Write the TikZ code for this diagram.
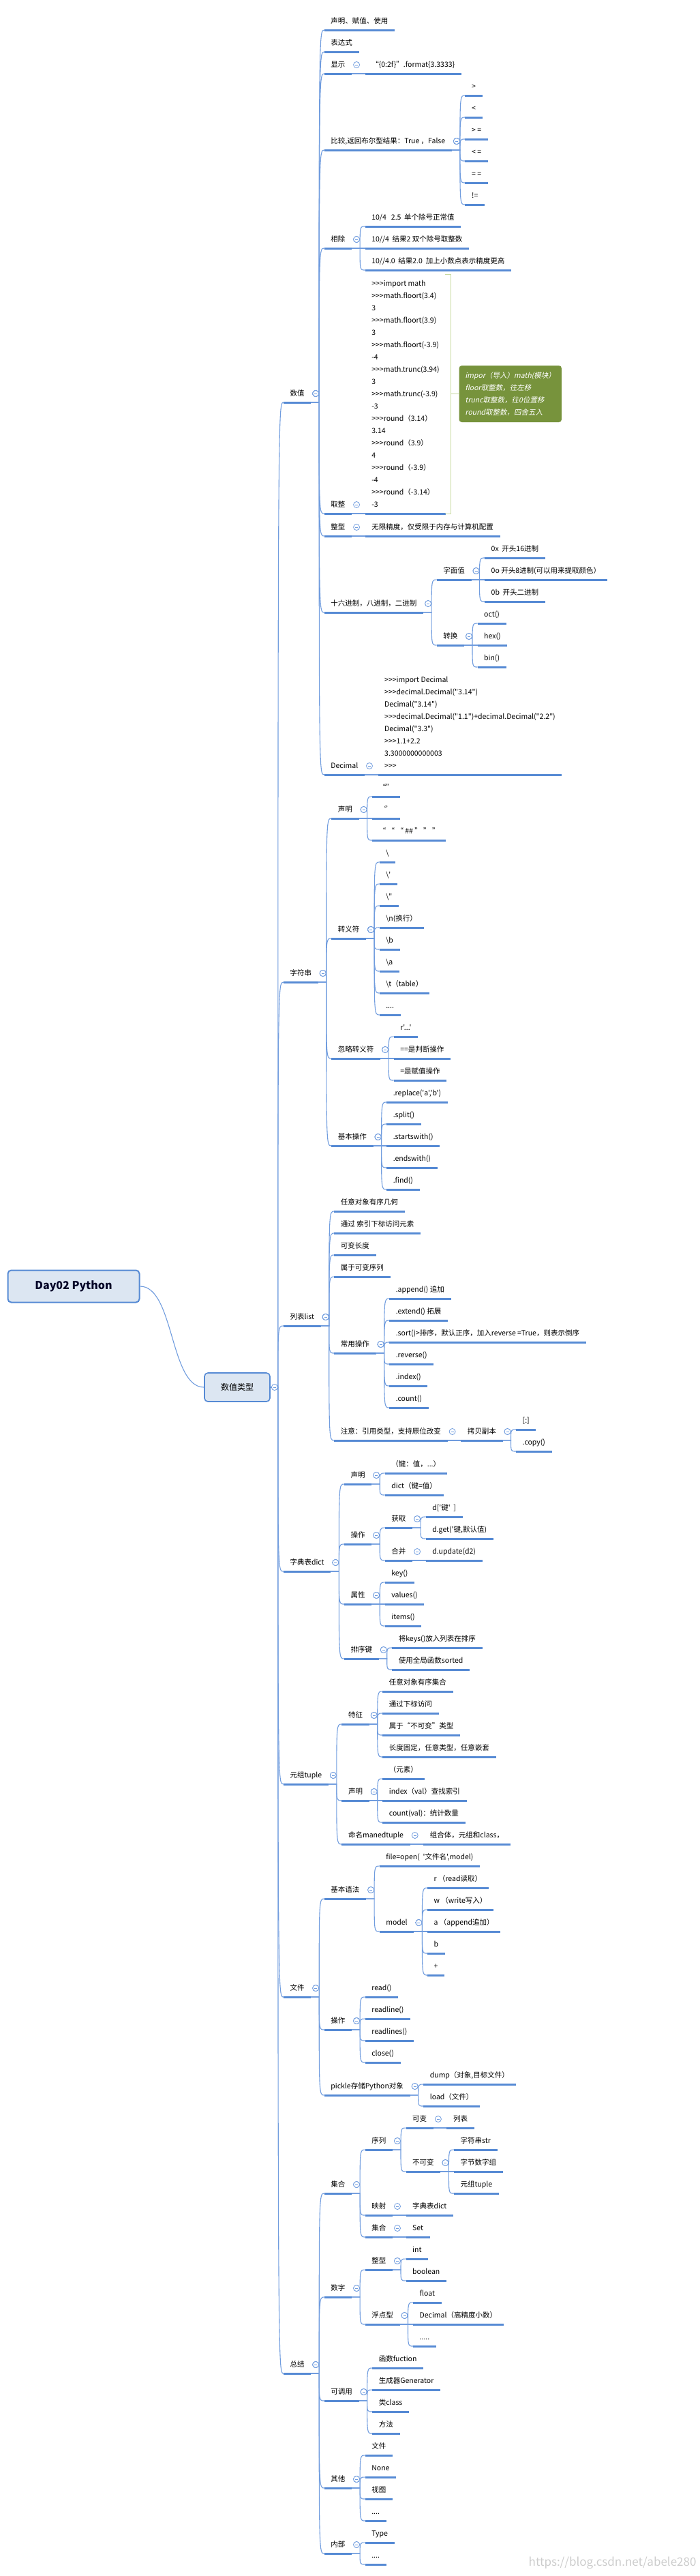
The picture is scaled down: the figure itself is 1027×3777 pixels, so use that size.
\documentclass[tikz,border=0pt]{standalone}
\usepackage{fontspec}
\usepackage{xcolor}
\usepackage{tikz}
\usetikzlibrary{arrows.meta,positioning,calc}
\newfontfamily\mapfont{Noto Sans CJK SC}
\newfontfamily\notefont[FakeSlant=0.2]{Noto Sans CJK SC}
\definecolor{mapblue}{RGB}{86,138,212}
\definecolor{linkblue}{RGB}{112,156,222}
\definecolor{boxfill}{RGB}{220,230,242}
\definecolor{noteolive}{RGB}{119,147,60}
\definecolor{bracegreen}{RGB}{200,218,160}
\tikzset{
  leaf/.style={font=\mapfont\fontsize{10.5}{18}\selectfont, inner xsep=9.5pt, anchor=south west},
  topic/.style={leaf, inner ysep=6pt, text height=9pt, text depth=3pt},
  codeblk/.style={leaf, inner ysep=9pt, align=left},
  uline/.style={draw=mapblue, line width=3pt},
  conn/.style={draw=linkblue, line width=1.1pt},
  foldc/.style={draw=linkblue, fill=white, line width=0.8pt},
  mainbox/.style={draw=mapblue, fill=boxfill, rounded corners=5pt, line width=2pt},
  brace/.style={draw=bracegreen, line width=1pt},
  note/.style={fill=noteolive, rounded corners=4pt, text=white, align=left, inner xsep=9pt, inner ysep=7pt,
    font=\notefont\fontsize{10.5}{18}\selectfont}
}
% child of a topic: parent, name, y of underline, text
\newcommand{\kid}[5][topic]{%
  \node[#1] (#3) at ([xshift=19.5pt]#2.south east |- 0,#4) {#5};
  \draw[uline] (#3.south west) -- (#3.south east);
  \draw[conn] (#2.south east) -- ([xshift=12pt]#2.south east)
    .. controls ([xshift=12pt]#2.south east |- #3.south west) and ([xshift=12pt]#2.south east |- #3.south west) .. (#3.south west);
  \draw[foldc] ([xshift=7pt,yshift=13pt]#2.south east) circle (4.5pt);
  \draw[linkblue, line width=0.8pt] ([xshift=5pt,yshift=13pt]#2.south east) -- ([xshift=9pt,yshift=13pt]#2.south east);
}
% first level below the main topic
\newcommand{\leveltop}[3]{%
  \node[topic] (#1) at ([xshift=19pt]nv.east |- 0,#2) {#3};
  \draw[uline] (#1.south west) -- (#1.south east);
  \draw[conn] (nv.east) -- ([xshift=11pt]nv.east)
    .. controls ([xshift=11pt]nv.east |- #1.south west) and ([xshift=11pt]nv.east |- #1.south west) .. (#1.south west);
}
\begin{document}
\begin{tikzpicture}[x=1pt, y=-1pt]
  \useasboundingbox (0,0) rectangle (1027,3777);
  % root and main topic
  \node[mainbox, minimum width=193pt, minimum height=47pt, font=\mapfont\bfseries\fontsize{16}{20}\selectfont, text=black!85!blue] (root) at (108,1886) {Day02 Python};
  \node[mainbox, minimum width=96pt, minimum height=42pt, line width=1.6pt, font=\mapfont\fontsize{12}{16}\selectfont] (nv) at (348,2034) {数值类型};
  \draw[conn] (root.east) .. controls +(50,0) and +(-50,0) .. (nv.west);
  \leveltop{sz}{590}{数值}
  \leveltop{zfc}{1440}{字符串}
  \leveltop{lb}{1944}{列表list}
  \leveltop{zd}{2304}{字典表dict}
  \leveltop{yz}{2616}{元组tuple}
  \leveltop{wj}{2928}{文件}
  \leveltop{zj}{3480}{总结}
  \draw[foldc] ([xshift=6pt]nv.east) circle (4.5pt);
  \draw[linkblue, line width=0.8pt] ([xshift=4pt]nv.east) -- ([xshift=8pt]nv.east);

  % 数值
  \kid{sz}{sm}{44}{声明、赋值、使用}
  \kid{sz}{bds}{76}{表达式}
  \kid{sz}{xs}{108}{显示}
  \kid{xs}{xsfmt}{108}{“\{0:2f\}”.format\{3.3333\}}
  \kid{sz}{bj}{220}{比较,返回布尔型结果：True ，False}
  \kid{bj}{bj1}{140}{>}
  \kid{bj}{bj2}{172}{<}
  \kid{bj}{bj3}{204}{> =}
  \kid{bj}{bj4}{236}{< =}
  \kid{bj}{bj5}{268}{= =}
  \kid{bj}{bj6}{300}{!=}
  \kid{sz}{xc}{364}{相除}
  \kid{xc}{xc1}{332}{10/4~~~2.5~~单个除号正常值}
  \kid{xc}{xc2}{364}{10//4~~结果2 双个除号取整数}
  \kid{xc}{xc3}{396}{10//4.0~~结果2.0~~加上小数点表示精度更高}
  \kid{sz}{qz}{753}{取整}
  \kid[codeblk]{qz}{qzcode}{753}{>>>import math\\>>>math.floort(3.4)\\3\\>>>math.floort(3.9)\\3\\>>>math.floort(-3.9)\\-4\\>>>math.trunc(3.94)\\3\\>>>math.trunc(-3.9)\\-3\\>>>round（3.14）\\3.14\\>>>round（3.9）\\4\\>>>round（-3.9）\\-4\\>>>round（-3.14）\\-3}
  \draw[brace] ([xshift=-1pt]qzcode.north east) -- ([xshift=7pt]qzcode.north east) -- ([xshift=7pt]qzcode.south east) -- ([xshift=-1pt]qzcode.south east);
  \node[note, anchor=west, minimum width=148pt, minimum height=83pt] (note) at ([xshift=19pt]qzcode.east) {impor（导入）math(模块）\\floor取整数，往左移\\trunc取整数，往0位置移\\round取整数，四舍五入};
  \draw[brace] ([xshift=7pt]qzcode.east) -- (note.west);
  \kid{sz}{zx}{786}{整型}
  \kid{zx}{zx1}{786}{无限精度，仅受限于内存与计算机配置}
  \kid{sz}{jz}{898}{十六进制，八进制，二进制}
  \kid{jz}{zmz}{850}{字面值}
  \kid{zmz}{zmz1}{818}{0x~~开头16进制}
  \kid{zmz}{zmz2}{850}{0o 开头8进制(可以用来提取颜色）}
  \kid{zmz}{zmz3}{882}{0b~~开头二进制}
  \kid{jz}{zh}{946}{转换}
  \kid{zh}{zh1}{914}{oct()}
  \kid{zh}{zh2}{946}{hex()}
  \kid{zh}{zh3}{978}{bin()}
  \kid{sz}{dec}{1136}{Decimal}
  \kid[codeblk]{dec}{deccode}{1136}{>>>import Decimal\\>>>decimal.Decimal("3.14")\\Decimal("3.14")\\>>>decimal.Decimal("1.1")+decimal.Decimal("2.2")\\Decimal("3.3")\\>>>1.1+2.2\\3.3000000000003\\>>>}

  % 字符串
  \kid{zfc}{zsm}{1200}{声明}
  \kid{zsm}{zsm1}{1168}{“”}
  \kid{zsm}{zsm2}{1200}{‘’}
  \kid{zsm}{zsm3}{1232}{“ “ “ \#\# ” ” ”}
  \kid{zfc}{zyf}{1376}{转义符}
  \kid{zyf}{zyf1}{1264}{\textbackslash}
  \kid{zyf}{zyf2}{1296}{\textbackslash'}
  \kid{zyf}{zyf3}{1328}{\textbackslash"}
  \kid{zyf}{zyf4}{1360}{\textbackslash n(换行）}
  \kid{zyf}{zyf5}{1392}{\textbackslash b}
  \kid{zyf}{zyf6}{1424}{\textbackslash a}
  \kid{zyf}{zyf7}{1456}{\textbackslash t（table）}
  \kid{zyf}{zyf8}{1488}{....}
  \kid{zfc}{hl}{1552}{忽略转义符}
  \kid{hl}{hl1}{1520}{r'...'}
  \kid{hl}{hl2}{1552}{==是判断操作}
  \kid{hl}{hl3}{1584}{=是赋值操作}
  \kid{zfc}{jbcz}{1680}{基本操作}
  \kid{jbcz}{jb1}{1616}{.replace('a','b')}
  \kid{jbcz}{jb2}{1648}{.split()}
  \kid{jbcz}{jb3}{1680}{.startswith()}
  \kid{jbcz}{jb4}{1712}{.endswith()}
  \kid{jbcz}{jb5}{1744}{.find()}

  % 列表list
  \kid{lb}{lb1}{1776}{任意对象有序几何}
  \kid{lb}{lb2}{1808}{通过 索引下标访问元素}
  \kid{lb}{lb3}{1840}{可变长度}
  \kid{lb}{lb4}{1872}{属于可变序列}
  \kid{lb}{cycz}{1984}{常用操作}
  \kid{cycz}{cy1}{1904}{.append() 追加}
  \kid{cycz}{cy2}{1936}{.extend() 拓展}
  \kid{cycz}{cy3}{1968}{.sort()>排序，默认正序，加入reverse =True，则表示倒序}
  \kid{cycz}{cy4}{2000}{.reverse()}
  \kid{cycz}{cy5}{2032}{.index()}
  \kid{cycz}{cy6}{2064}{.count()}
  \kid{lb}{zy}{2112}{注意：引用类型，支持原位改变}
  \kid{zy}{kb}{2112}{拷贝副本}
  \kid{kb}{kb1}{2096}{[:]}
  \kid{kb}{kb2}{2128}{.copy()}

  % 字典表dict
  \kid{zd}{dsm}{2176}{声明}
  \kid{dsm}{dsm1}{2160}{（键：值，...）}
  \kid{dsm}{dsm2}{2192}{dict（键=值）}
  \kid{zd}{dcz}{2264}{操作}
  \kid{dcz}{hq}{2240}{获取}
  \kid{hq}{hq1}{2224}{d['键'~~]}
  \kid{hq}{hq2}{2256}{d.get('键,默认值)}
  \kid{dcz}{hb}{2288}{合并}
  \kid{hb}{hb1}{2288}{d.update(d2)}
  \kid{zd}{sx}{2352}{属性}
  \kid{sx}{sx1}{2320}{key()}
  \kid{sx}{sx2}{2352}{values()}
  \kid{sx}{sx3}{2384}{items()}
  \kid{zd}{pxj}{2432}{排序键}
  \kid{pxj}{pxj1}{2416}{将keys()放入列表在排序}
  \kid{pxj}{pxj2}{2448}{使用全局函数sorted}

  % 元组tuple
  \kid{yz}{tz}{2528}{特征}
  \kid{tz}{tz1}{2480}{任意对象有序集合}
  \kid{tz}{tz2}{2512}{通过下标访问}
  \kid{tz}{tz3}{2544}{属于“不可变”类型}
  \kid{tz}{tz4}{2576}{长度固定，任意类型，任意嵌套}
  \kid{yz}{ysm}{2640}{声明}
  \kid{ysm}{ysm1}{2608}{（元素）}
  \kid{ysm}{ysm2}{2640}{index（val）查找索引}
  \kid{ysm}{ysm3}{2672}{count(val)：统计数量}
  \kid{yz}{mm}{2704}{命名manedtuple}
  \kid{mm}{mm1}{2704}{组合体，元组和class，}

  % 文件
  \kid{wj}{jbyf}{2784}{基本语法}
  \kid{jbyf}{fo}{2736}{file=open(~~'文件名',model)}
  \kid{jbyf}{md}{2832}{model}
  \kid{md}{md1}{2768}{r~（read读取）}
  \kid{md}{md2}{2800}{w~（write写入）}
  \kid{md}{md3}{2832}{a~（append追加）}
  \kid{md}{md4}{2864}{b}
  \kid{md}{md5}{2896}{+}
  \kid{wj}{wcz}{2976}{操作}
  \kid{wcz}{wcz1}{2928}{read()}
  \kid{wcz}{wcz2}{2960}{readline()}
  \kid{wcz}{wcz3}{2992}{readlines()}
  \kid{wcz}{wcz4}{3024}{close()}
  \kid{wj}{pk}{3072}{pickle存储Python对象}
  \kid{pk}{pk1}{3056}{dump（对象,目标文件）}
  \kid{pk}{pk2}{3088}{load（文件）}

  % 总结
  \kid{zj}{jh}{3216}{集合}
  \kid{jh}{xl}{3152}{序列}
  \kid{xl}{kbian}{3120}{可变}
  \kid{kbian}{kbl}{3120}{列表}
  \kid{xl}{bkb}{3184}{不可变}
  \kid{bkb}{bkb1}{3152}{字符串str}
  \kid{bkb}{bkb2}{3184}{字节数字组}
  \kid{bkb}{bkb3}{3216}{元组tuple}
  \kid{jh}{ys}{3248}{映射}
  \kid{ys}{ys1}{3248}{字典表dict}
  \kid{jh}{jhe}{3280}{集合}
  \kid{jhe}{jhe1}{3280}{Set}
  \kid{zj}{shz}{3368}{数字}
  \kid{shz}{zxg}{3328}{整型}
  \kid{zxg}{zxg1}{3312}{int}
  \kid{zxg}{zxg2}{3344}{boolean}
  \kid{shz}{fd}{3408}{浮点型}
  \kid{fd}{fd1}{3376}{float}
  \kid{fd}{fd2}{3408}{Decimal（高精度小数）}
  \kid{fd}{fd3}{3440}{.....}
  \kid{zj}{kdy}{3520}{可调用}
  \kid{kdy}{kdy1}{3472}{函数fuction}
  \kid{kdy}{kdy2}{3504}{生成器Generator}
  \kid{kdy}{kdy3}{3536}{类class}
  \kid{kdy}{kdy4}{3568}{方法}
  \kid{zj}{qt}{3648}{其他}
  \kid{qt}{qt1}{3600}{文件}
  \kid{qt}{qt2}{3632}{None}
  \kid{qt}{qt3}{3664}{视图}
  \kid{qt}{qt4}{3696}{....}
  \kid{zj}{nb}{3744}{内部}
  \kid{nb}{nb1}{3728}{Type}
  \kid{nb}{nb2}{3760}{....}

  % watermark
  \node[anchor=east, text=black!20, font=\mapfont\fontsize{17}{20}\selectfont] (wm) at (1025,3758) {https://blog.csdn.net/abele280};
\end{tikzpicture}
\end{document}
